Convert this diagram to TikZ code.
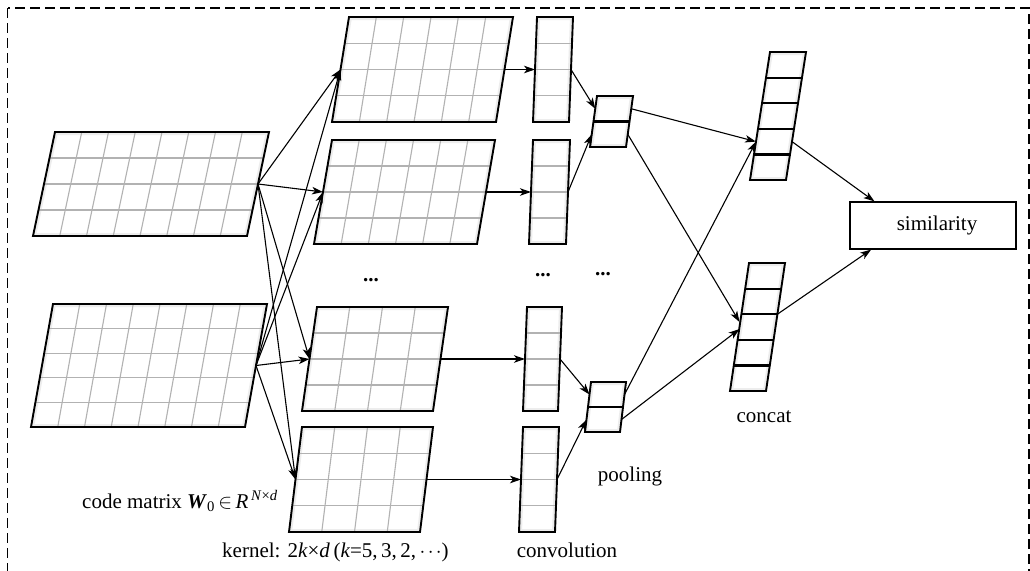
\documentclass[tikz,border=0pt]{standalone}
\usepackage{fontspec}
\setmainfont{Liberation Serif}
\usetikzlibrary{arrows.meta,calc}

\tikzset{
  matborder/.style={line width=1.9pt, line join=miter},
  gridline/.style={gray!60, line width=1.1pt},
  rowline/.style={black, line width=2.2pt},
  link/.style={-{Stealth[length=11pt,width=7.5pt,inset=3pt]}, line width=1.1pt},
  frame/.style={line width=1.1pt, dash pattern=on 10pt off 5pt},
  lbl/.style={font=\fontsize{21}{25}\selectfont, inner sep=0pt},
}

% skewed matrix: [row style] name, x, y (bottom left), width, height, slant, cols, rows
\newcommand\skewmat[9][gridline]{%
  \fill[white] (#3,#4) -- ++(#5,0) -- ++(#7,-#6) -- ++(-#5,0) -- cycle;
  \begin{scope}
    \clip (#3,#4) -- ++(#5,0) -- ++(#7,-#6) -- ++(-#5,0) -- cycle;
    \draw[black!7, line width=6pt] (#3,#4) -- ++(#5,0) -- ++(#7,-#6) -- ++(-#5,0) -- cycle;
  \end{scope}
  \ifnum#8>1
    \pgfmathtruncatemacro\ncols{#8-1}%
    \foreach \i in {1,...,\ncols}
      \draw[gridline] ({#3+\i*#5/#8},#4) -- ++(#7,-#6);
  \fi
  \pgfmathtruncatemacro\nrows{#9-1}%
  \foreach \j in {1,...,\nrows}
    \draw[#1] ({#3+\j*#7/#9},{#4-\j*#6/#9}) -- ++(#5,0);
  \draw[matborder] (#3,#4) -- ++(#5,0) -- ++(#7,-#6) -- ++(-#5,0) -- cycle;
  \coordinate (#2-w) at ({#3+#7/2},{#4-#6/2});
  \coordinate (#2-e) at ({#3+#5+#7/2},{#4-#6/2});
  \foreach \j in {1,...,#9} {
    \pgfmathsetmacro\frac{(#9-\j+0.5)/#9}
    \coordinate (#2-l\j) at ({#3+#7*\frac},{#4-#6*\frac});
    \coordinate (#2-r\j) at ({#3+#5+#7*\frac},{#4-#6*\frac});
  }
}

\begin{document}
\begin{tikzpicture}[x=1pt,y=-1pt]
    \useasboundingbox (0,0) rectangle (1030,570);
    \draw[frame] (7.5,8) rectangle (1029,600);
    % code matrices
    \skewmat{inA}{33}{236}{214}{104}{22}{8}{4}
    \skewmat{inB}{31}{427}{214}{123}{22}{8}{5}
    % kernels
    \skewmat{kA}{332}{122}{164}{105}{17}{6}{4}
    \skewmat{kB}{314}{244}{163}{104}{18}{6}{4}
    \skewmat{kC}{302}{411}{131}{104}{15}{4}{4}
    \skewmat{kD}{289}{532}{131}{105}{13}{4}{4}
    % convolution
    \skewmat{cA}{533}{122}{36}{105}{4}{1}{4}
    \skewmat{cB}{529}{244}{37}{104}{4}{1}{4}
    \skewmat{cC}{523}{411}{35}{104}{4}{1}{4}
    \skewmat{cD}{519}{532}{36}{105}{4}{1}{4}
    % pooling
    \skewmat[rowline]{pA}{590}{147}{36}{51}{7}{1}{2}
    \skewmat[rowline]{pB}{585}{432}{35}{50}{6}{1}{2}
    % concat
    \skewmat[rowline]{catA}{750}{180}{36}{128}{20}{1}{5}
    \skewmat[rowline]{catB}{730}{391}{36}{128}{19}{1}{5}
    \node[draw, line width=1.2pt, minimum width=166pt, minimum height=47pt, lbl] (sim) at (933,225.5) {\hspace{8pt}similarity};
    % connectors
    \foreach \src in {inA,inB}
        \foreach \dst in {kA,kB,kC,kD}
            \draw[link] (\src-e) -- (\dst-w);
    \foreach \k/\c in {kA/cA,kB/cB,kC/cC,kD/cD}
        \draw[link] (\k-e) -- (\c-w);
    \draw[link] (cA-e) -- (pA-l1);
    \draw[link] (cB-e) -- (pA-l2);
    \draw[link] (cC-e) -- (pB-l1);
    \draw[link] (cD-e) -- (pB-l2);
    \draw[link] (pA-r1) -- (catA-l4);
    \draw[link] (pB-r1) -- (catA-l4);
    \draw[link] (pA-r2) -- ([yshift=5pt]catB-l3);
    \draw[link] (pB-r2) -- ([yshift=-2pt]catB-l3);
    \draw[link] (catA-r4) -- ($(sim.north west)!0.15!(sim.north east)$);
    \draw[link] ($(catB-r2)!0.5!(catB-r3)$) -- ($(sim.south west)!0.13!(sim.south east)$);
    % labels
    \node[lbl] (dotsK) at (371,280) {\textbf{...}};
    \node[lbl] (dotsC) at (543,275) {\textbf{...}};
    \node[lbl] (dotsP) at (603,274) {\textbf{...}};
    \node[lbl, anchor=base west] (codelbl) at (82,508) {code matrix \textbf{\textit{W}}\textsubscript{0}\,$\in$\,\textit{R}\textsuperscript{\,\textit{N}×\textit{d}}};
    \node[lbl, anchor=base west] (kernlbl) at (222,557) {kernel: 2\textit{k}×\textit{d}\,(\textit{k}=5,\,3,\,2,\,$\cdot\mkern-2mu\cdot\mkern-2mu\cdot$)};
    \node[lbl, anchor=base] (convlbl) at (567,557) {convolution};
    \node[lbl, anchor=base] (poollbl) at (630,481) {pooling};
    \node[lbl, anchor=base] (catlbl) at (764,422) {concat};
\end{tikzpicture}
\end{document}
